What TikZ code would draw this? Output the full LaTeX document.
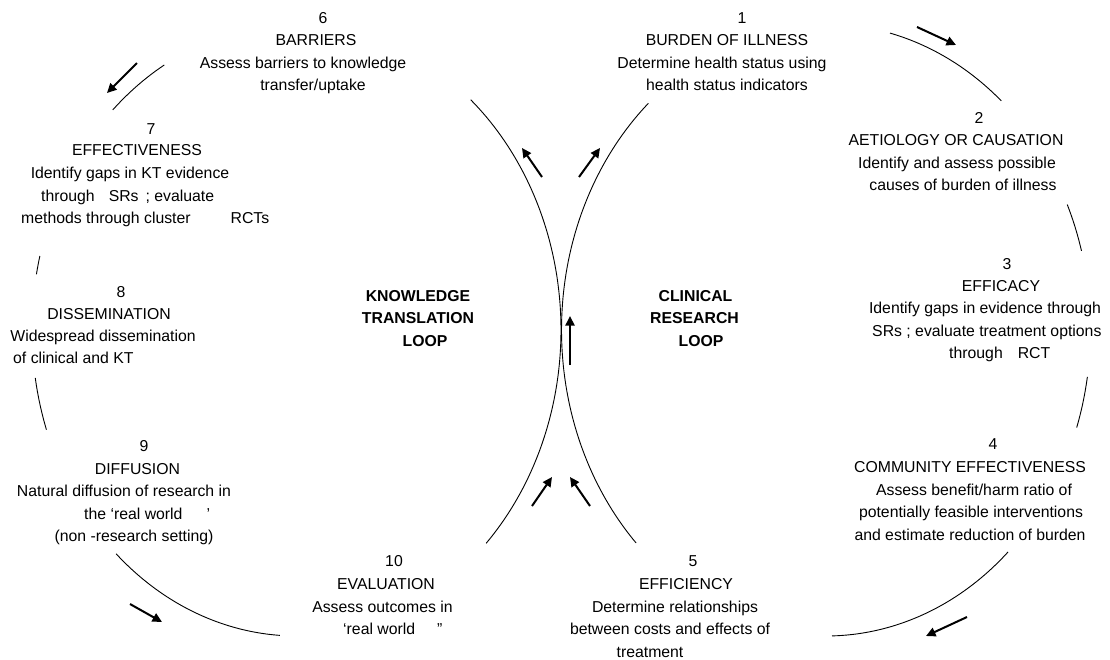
\documentclass[tikz,border=0pt]{standalone}
\usepackage{fontspec}
\setmainfont{Liberation Sans}
\usetikzlibrary{arrows.meta}
\begin{document}
\begin{tikzpicture}[x=1pt,y=-1pt,
  lbl/.style={inner sep=0pt, text height=11.4pt, text depth=0pt,
              font=\fontsize{15.8}{19}\selectfont},
  lblw/.style={lbl, anchor=west},
  looptitle/.style={lbl, font=\fontsize{15.8}{19}\selectfont\bfseries},
  looparc/.style={line width=0.9pt},
  flow/.style={line width=2pt, -{Triangle[length=9.5pt,width=9pt]}}]

% canvas
\fill[white] (0,0) rectangle (1110,659);
\useasboundingbox (0,0) rectangle (1110,659);

% ---- loop geometry: two ellipses touching in the middle ----
\def\lcx{296.5}\def\rcx{826}\def\cy{330}\def\rx{264.5}\def\ry{306}

% knowledge translation loop (left)
\draw[looparc] plot[domain=226:240, samples=20, variable=\t] ({\lcx+\rx*cos(\t)},{\cy+\ry*sin(\t)});
\draw[looparc] plot[domain=190.5:194, samples=6, variable=\t] ({\lcx+\rx*cos(\t)},{\cy+\ry*sin(\t)});
\draw[looparc] plot[domain=161:171, samples=12, variable=\t] ({\lcx+\rx*cos(\t)},{\cy+\ry*sin(\t)});
\draw[looparc] plot[domain=93.6:133, samples=40, variable=\t] ({\lcx+\rx*cos(\t)},{\cy+\ry*sin(\t)});
\draw[looparc] plot[domain=-48.8:44.2, samples=80, variable=\t] ({\lcx+\rx*cos(\t)},{\cy+\ry*sin(\t)});

% clinical research loop (right)
\draw[looparc] plot[domain=-76:-48.5, samples=30, variable=\t] ({\rcx+\rx*cos(\t)},{\cy+\ry*sin(\t)});
\draw[looparc] plot[domain=-24.2:-15, samples=12, variable=\t] ({\rcx+\rx*cos(\t)},{\cy+\ry*sin(\t)});
\draw[looparc] plot[domain=8.8:18.6, samples=12, variable=\t] ({\rcx+\rx*cos(\t)},{\cy+\ry*sin(\t)});
\draw[looparc] plot[domain=46.5:88.7, samples=40, variable=\t] ({\rcx+\rx*cos(\t)},{\cy+\ry*sin(\t)});
\draw[looparc] plot[domain=135.9:227.8, samples=80, variable=\t] ({\rcx+\rx*cos(\t)},{\cy+\ry*sin(\t)});

% ---- direction arrows ----
\coordinate (a1s) at (917,27);  \coordinate (a1e) at (956,45);
\coordinate (a2s) at (137,63);  \coordinate (a2e) at (107,93);
\coordinate (a3s) at (542,177); \coordinate (a3e) at (522,148);
\coordinate (a4s) at (579,177); \coordinate (a4e) at (600,148);
\coordinate (a5s) at (570,365); \coordinate (a5e) at (570,316);
\coordinate (a6s) at (532,506); \coordinate (a6e) at (552,477);
\coordinate (a7s) at (590,506); \coordinate (a7e) at (570,477);
\coordinate (a8s) at (130,604); \coordinate (a8e) at (162,622);
\coordinate (a9s) at (967,617); \coordinate (a9e) at (926,636);
\foreach \k in {1,...,9} \draw[flow] (a\k s) -- (a\k e);

% ---- stage labels ----
% 6
\node[lbl] (b6n) at (323,18) {6};
\node[lbl] (b6t) at (316,40) {BARRIERS};
\node[lbl] (b6a) at (303,63) {Assess barriers to knowledge};
\node[lbl] (b6b) at (313,85) {transfer/uptake};
% 1
\node[lbl] (b1n) at (742,18) {1};
\node[lbl] (b1t) at (727,40) {BURDEN OF ILLNESS};
\node[lbl] (b1a) at (722,63) {Determine health status using};
\node[lbl] (b1b) at (727,85) {health status indicators};
% 2
\node[lbl] (b2n) at (979,118) {2};
\node[lbl] (b2t) at (956,140) {AETIOLOGY OR CAUSATION};
\node[lbl] (b2a) at (957,163) {Identify and assess possible};
\node[lbl] (b2b) at (963,185) {causes of burden of illness};
% 7
\node[lbl] (b7n) at (151,129) {7};
\node[lbl] (b7t) at (137,150) {EFFECTIVENESS};
\node[lbl] (b7a) at (130,173) {Identify gaps in KT evidence};
\node[lblw] (b7b) at (41,196) {through\hspace{14pt}SRs\hspace{7pt}; evaluate};
\node[lblw] (b7c) at (21,218) {methods through cluster\hspace{40pt}RCTs};
% 8
\node[lbl] (b8n) at (121,292) {8};
\node[lbl] (b8t) at (109,314) {DISSEMINATION};
\node[lbl] (b8a) at (103,336) {Widespread dissemination};
\node[lblw] (b8b) at (13,358) {of clinical and KT};
% 3
\node[lbl] (b3n) at (1007,264) {3};
\node[lbl] (b3t) at (1001,286) {EFFICACY};
\node[lbl] (b3a) at (985,308) {Identify gaps in evidence through};
\node[lblw] (b3b) at (872,331) {SRs ; evaluate treatment options};
\node[lblw] (b3c) at (949,353) {through\hspace{15pt}RCT};
% 9
\node[lbl] (b9n) at (144,446) {9};
\node[lbl] (b9t) at (137.5,469) {DIFFUSION};
\node[lbl] (b9a) at (124,491) {Natural diffusion of research in};
\node[lblw] (b9b) at (84,514) {the ‘real world\hspace{24pt}’};
\node[lbl] (b9c) at (134,536) {(non -research setting)};
% 4
\node[lbl] (b4n) at (993,444) {4};
\node[lbl] (b4t) at (970,467) {COMMUNITY EFFECTIVENESS};
\node[lbl] (b4a) at (974,490) {Assess benefit/harm ratio of};
\node[lbl] (b4b) at (971,512) {potentially feasible interventions};
\node[lbl] (b4c) at (970,535) {and estimate reduction of burden};
% 10
\node[lbl] (b10n) at (394,561) {10};
\node[lbl] (b10t) at (386,584) {EVALUATION};
\node[lbl] (b10a) at (382.5,607) {Assess outcomes in};
\node[lblw] (b10b) at (343,629) {‘real world\hspace{22pt}”};
% 5
\node[lbl] (b5n) at (693,561) {5};
\node[lbl] (b5t) at (686,584) {EFFICIENCY};
\node[lbl] (b5a) at (675,607) {Determine relationships};
\node[lbl] (b5b) at (670,629) {between costs and effects of};
\node[lbl] (b5c) at (650,652) {treatment};

% ---- loop titles ----
\node[looptitle] (kt1) at (418,296) {KNOWLEDGE};
\node[looptitle] (kt2) at (418,318) {TRANSLATION};
\node[looptitle] (kt3) at (425,341) {LOOP};
\node[looptitle] (cr1) at (695.5,296) {CLINICAL};
\node[looptitle] (cr2) at (694.5,318) {RESEARCH};
\node[looptitle] (cr3) at (701,341) {LOOP};
\end{tikzpicture}
\end{document}
